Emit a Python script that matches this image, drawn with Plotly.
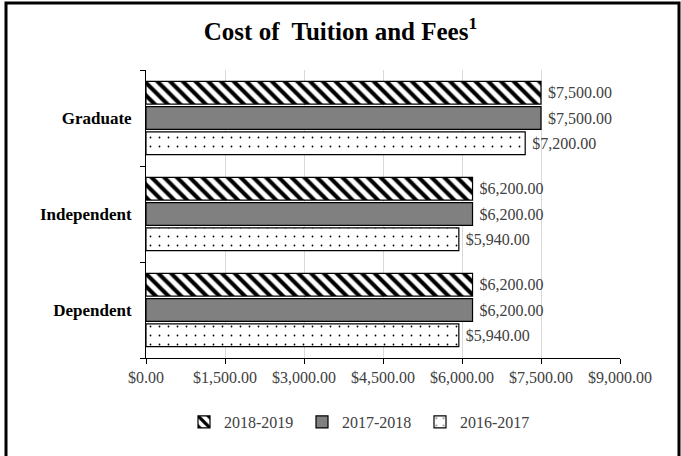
import plotly.graph_objects as go

categories = ["Dependent", "Independent", "Graduate"]
series_names = ["2016-2017", "2017-2018", "2018-2019"]
values_2016_2017 = [5940, 5940, 7200]
values_2017_2018 = [6200, 6200, 7500]
values_2018_2019 = [6200, 6200, 7500]
x_ticks = [0, 1500, 3000, 4500, 6000, 7500, 9000]

FONT = "Liberation Serif"
TXT = "#404040"

styles = {
    "2016-2017": dict(color="white", pattern=dict(shape=".", fgcolor="black", bgcolor="white", size=9,
                                                  solidity=0.03, fgopacity=1)),
    "2017-2018": dict(color="#808080"),
    "2018-2019": dict(color="white", pattern=dict(shape="\\", fgcolor="black", bgcolor="white", size=9,
                                                  solidity=0.45, fgopacity=1)),
}
data = {"2016-2017": values_2016_2017, "2017-2018": values_2017_2018, "2018-2019": values_2018_2019}

fig = go.Figure()
for name in series_names:
    fig.add_trace(go.Bar(
        y=categories, x=data[name], name=name, orientation="h",
        marker=dict(**styles[name], line=dict(color="black", width=1.2)),
        texttemplate="\u00a0%{x:$,.2f}", textposition="outside", cliponaxis=False,
        textfont=dict(family=FONT, size=16, color=TXT),
    ))

W, H = 681, 456
L, R, T, B = 146, 620, 70, 358
pw, ph = R - L, B - T
def px(x): return (x - L) / pw
def py(y): return (B - y) / ph

fig.update_layout(
    width=W, height=H,
    margin=dict(l=L, r=W - R, t=T, b=H - B, autoexpand=False),
    paper_bgcolor="white", plot_bgcolor="white",
    barmode="group", bargap=0.21, bargroupgap=0.1,
    font=dict(family=FONT, size=16, color=TXT),
    title=dict(text="<b>Cost of  Tuition and Fees<sup>1</sup></b>", x=0.5, xref="container", xanchor="center",
               y=1 - 31 / H, yanchor="middle", font=dict(family=FONT, size=25, color="black")),
    xaxis=dict(range=[0, 9000], tickvals=x_ticks, tickformat="$,.2f", showgrid=True, gridcolor="#d9d9d9",
               gridwidth=1, showline=True, linecolor="black", linewidth=1, ticks="outside", ticklen=5,
               tickcolor="black", tickfont=dict(family=FONT, size=16, color=TXT), zeroline=False,
               automargin=False),
    yaxis=dict(categoryorder="array", categoryarray=categories, showline=True, linecolor="black", linewidth=1,
               ticks="outside", tickson="boundaries", ticklen=5, tickcolor="black",
               tickfont=dict(family=FONT, size=17, color="black", weight="bold"), ticklabelstandoff=10,
               automargin=False),
    legend=dict(orientation="h", x=px(361), xanchor="center", y=py(422), yanchor="middle",
                traceorder="reversed", font=dict(family=FONT, size=16, color=TXT),
                itemwidth=30, entrywidth=73),
    showlegend=True,
    shapes=[dict(type="rect", xref="paper", yref="paper", x0=px(6), x1=px(679), y0=py(470), y1=py(3),
                 line=dict(color="black", width=3), fillcolor="rgba(0,0,0,0)", layer="above")],
)

fig.write_html("out.html", config={"displayModeBar": False},
               post_script="document.body.style.margin='0';document.body.style.overflow='hidden';")
